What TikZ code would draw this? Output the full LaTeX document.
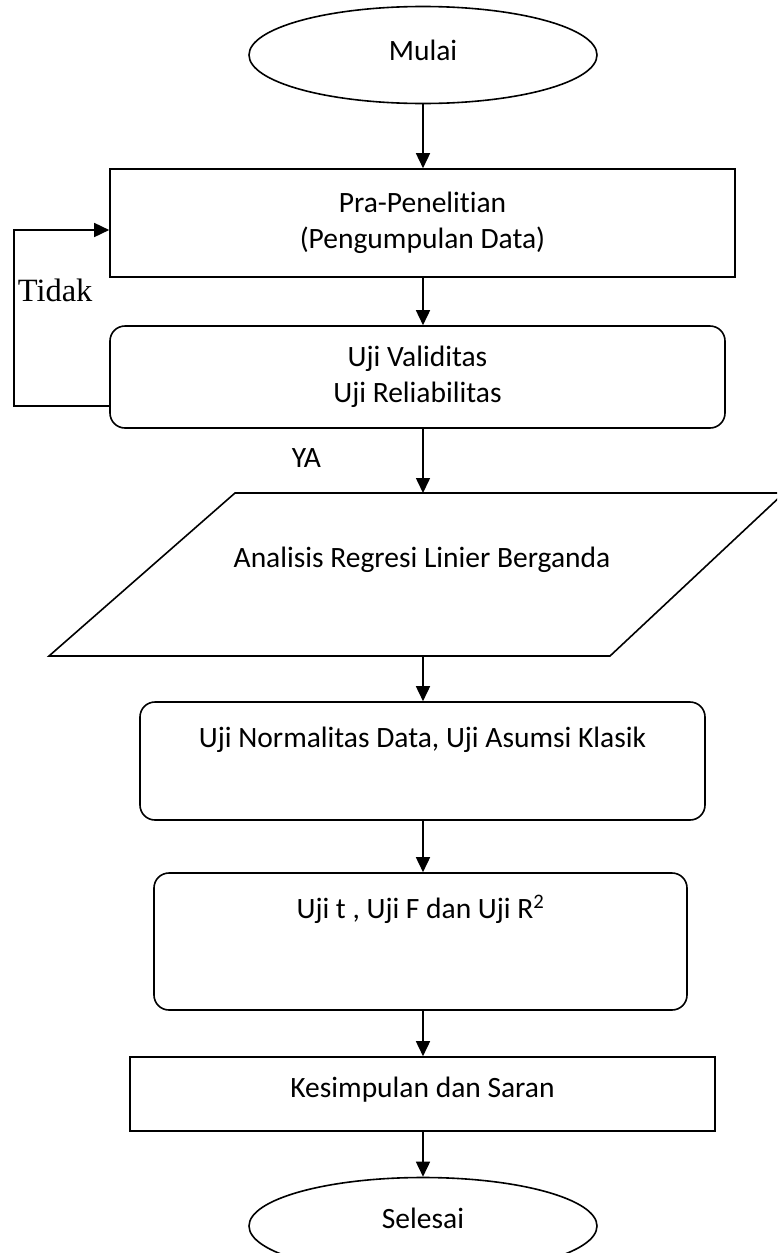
\documentclass[tikz,border=0pt]{standalone}
\usepackage{fontspec}
\setmainfont{Carlito}[Ligatures=NoCommon]
\newfontfamily\timesfont{Liberation Serif}
\usetikzlibrary{arrows.meta,shapes.geometric}
\begin{document}
\begin{tikzpicture}[x=1pt,y=-1pt,
  line width=1.6pt,
  every node/.style={font=\fontsize{29.5}{36}\selectfont, inner sep=0pt},
  arr/.style={-{Triangle[length=15pt,width=14pt]}},
  sharpbox/.style={draw, rectangle},
  roundbox/.style={draw, rectangle, rounded corners=15pt},
  oval/.style={draw, ellipse, minimum width=348pt, minimum height=97pt}
]
\useasboundingbox (0,0) rectangle (777,1253);
\clip (0,0) rectangle (777,1253);

% start / end
\node[oval, text height=20pt, text depth=10pt] (mulai) at (423,55) {Mulai};
\node[oval, text height=20pt, text depth=16pt] (selesai) at (423,1226) {Selesai};

% process boxes
\node[sharpbox, minimum width=625pt, minimum height=108pt, align=center] (pra) at (422.5,223)
  {Pra-Penelitian\\(Pengumpulan Data)};
\node[roundbox, minimum width=615pt, minimum height=102pt, align=center] (val) at (417.5,377)
  {Uji Validitas\\Uji Reliabilitas};
\node[roundbox, minimum width=565pt, text height=45pt, text depth=73pt] (norm) at (422.5,761)
  {Uji Normalitas Data, Uji Asumsi Klasik};
\node[roundbox, minimum width=533pt, text height=45pt, text depth=92pt] (uji) at (420.5,941.5)
  {Uji t , Uji F dan Uji R\textsuperscript{2}};
\node[sharpbox, minimum width=585pt, text height=40pt, text depth=34pt] (kes) at (422.5,1094)
  {Kesimpulan dan Saran};

% parallelogram
\coordinate (pTL) at (235,493);
\coordinate (pTR) at (784,493);
\coordinate (pBR) at (610,656);
\coordinate (pBL) at (49,656);
\draw (pTL) -- (pTR) -- (pBR) -- (pBL) -- cycle;
\node[anchor=base] (par) at (422,567) {Analisis Regresi Linier Berganda};

% labels
\node[anchor=base west, font=\timesfont\fontsize{32.5}{36}\selectfont] (tidak) at (17,301) {Tidak};
\node[anchor=base west] (ya) at (291,467) {YA};

% connectors
\draw[arr] (mulai.south) -- (mulai.south |- pra.north);
\draw[arr] (mulai.south |- pra.south) -- (mulai.south |- val.north);
\draw[arr] (mulai.south |- val.south) -- (mulai.south |- pTL);
\draw[arr] (mulai.south |- pBL) -- (mulai.south |- norm.north);
\draw[arr] (mulai.south |- norm.south) -- (mulai.south |- uji.north);
\draw[arr] (mulai.south |- uji.south) -- (mulai.south |- kes.north);
\draw[arr] (mulai.south |- kes.south) -- (selesai.north);

% loop back
\coordinate (lc) at (14,406);
\draw[arr] ([yshift=-29pt]val.west) -- (lc) |- ([yshift=-7pt]pra.west);
\end{tikzpicture}
\end{document}
